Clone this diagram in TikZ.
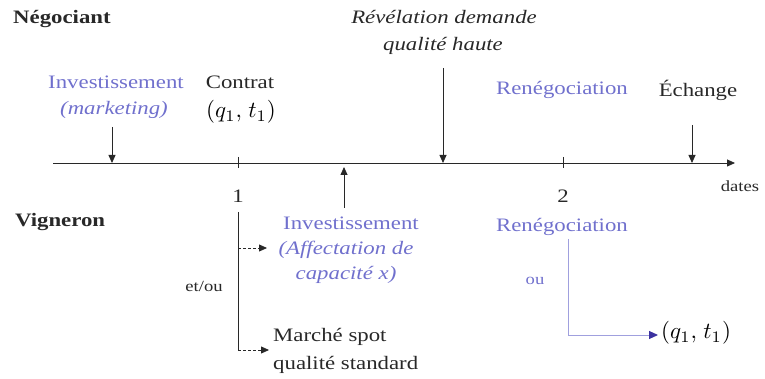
\documentclass[tikz,border=0pt]{standalone}
\usepackage{fontspec}
\usepackage{graphicx}
\setmainfont[FakeStretch=1.2]{Liberation Serif}
\usetikzlibrary{arrows.meta}
\definecolor{lav}{RGB}{112,112,205}
\definecolor{lavline}{RGB}{160,160,222}
\definecolor{darkblue}{RGB}{60,50,160}
\definecolor{ink}{RGB}{40,40,40}
\newcommand{\qt}{\scalebox{2.3}{$(q_1,\mkern2mu t_1)$}}
\tikzset{
  lbl/.style={inner sep=0pt, text=ink, font=\fontsize{19}{22}\selectfont},
  blbl/.style={lbl, text=lav},
  ilbl/.style={lbl, font=\fontsize{19}{22}\selectfont\itshape},
  iblbl/.style={ilbl, text=lav},
  small/.style={inner sep=0pt, text=ink, font=\fontsize{15.5}{18}\selectfont},
  head/.style={inner sep=0pt, text=ink, font=\fontsize{19}{22}\selectfont\bfseries},
  mathlbl/.style={inner sep=0pt, text=black},
  tip/.style={-{Triangle[length=8pt,width=7pt]}},
  ln/.style={draw=ink, line width=0.8pt},
}
\begin{document}
\begin{tikzpicture}[x=1pt,y=-1pt]
\useasboundingbox (0,0) rectangle (765,379);
% headings
\node[head, anchor=west] (neg) at (13,19) {Négociant};
\node[head, anchor=west] (vig) at (15,222) {Vigneron};
% timeline
\coordinate (tl0) at (53,163);
\coordinate (tl1) at (735,163);
\draw[ln, tip] (tl0) -- (tl1);
\node[small] (dates) at (740,186) {dates};
\coordinate (t1a) at (238,157); \coordinate (t1b) at (238,168);
\coordinate (t2a) at (563,157); \coordinate (t2b) at (563,168);
\draw[ln] (t1a) -- (t1b);
\draw[ln] (t2a) -- (t2b);
\node[lbl] (one) at (238,196) {1};
\node[lbl] (two) at (563,196) {2};
% upper labels
\node[blbl] (inv1) at (116,82) {Investissement};
\node[iblbl] (mkt) at (114,110) {(marketing)};
\coordinate (m0) at (112,127); \coordinate (m1) at (112,163);
\draw[ln, tip] (m0) -- (m1);
\node[lbl] (contrat) at (240,82) {Contrat};
\node[mathlbl] (q1) at (241,112) {\qt};
\node[ilbl] (rev1) at (444,17) {Révélation demande};
\node[ilbl] (rev2) at (443,46) {qualité haute};
\coordinate (r0) at (443,68); \coordinate (r1) at (443,163);
\draw[ln, tip] (r0) -- (r1);
\node[blbl] (ren1) at (562,90) {Renégociation};
\node[lbl] (ech) at (698,90) {Échange};
\coordinate (e0) at (692,125); \coordinate (e1) at (692,163);
\draw[ln, tip] (e0) -- (e1);
% up arrow
\coordinate (u0) at (344,208); \coordinate (u1) at (344,167);
\draw[ln, tip] (u0) -- (u1);
% lower labels
\node[blbl] (inv2) at (351,223) {Investissement};
\node[iblbl] (aff1) at (346,250) {(Affectation de};
\node[iblbl] (aff2) at (346,275) {capacité x)};
\node[lbl, anchor=west, align=left, font=\fontsize{19}{28}\selectfont] (spot) at (273,351) {Marché spot\\qualité standard};
\node[small] (etou) at (204,286) {et/ou};
% branches from date 1
\coordinate (b0) at (238,212);
\coordinate (b1) at (238,248);
\coordinate (b2) at (238,350);
\coordinate (b1e) at (267,248);
\coordinate (b2e) at (269,350);
\draw[ln] (b0) -- (b2);
\draw[ln, tip, densely dashed] (b1) -- (b1e);
\draw[ln, tip, densely dashed] (b2) -- (b2e);
% renegotiation at date 2
\node[blbl] (ren2) at (562,227) {Renégociation};
\node[small, text=lav] (ou) at (535,281) {ou};
\coordinate (c0) at (568,239);
\coordinate (c1) at (568,335);
\coordinate (c2) at (658,335);
\draw[draw=lavline, line width=1pt, -{Triangle[length=9pt,width=8pt,color=darkblue]}] (c0) -- (c1) -- (c2);
\node[mathlbl] (q2) at (696,333) {\qt};
\end{tikzpicture}
\end{document}
